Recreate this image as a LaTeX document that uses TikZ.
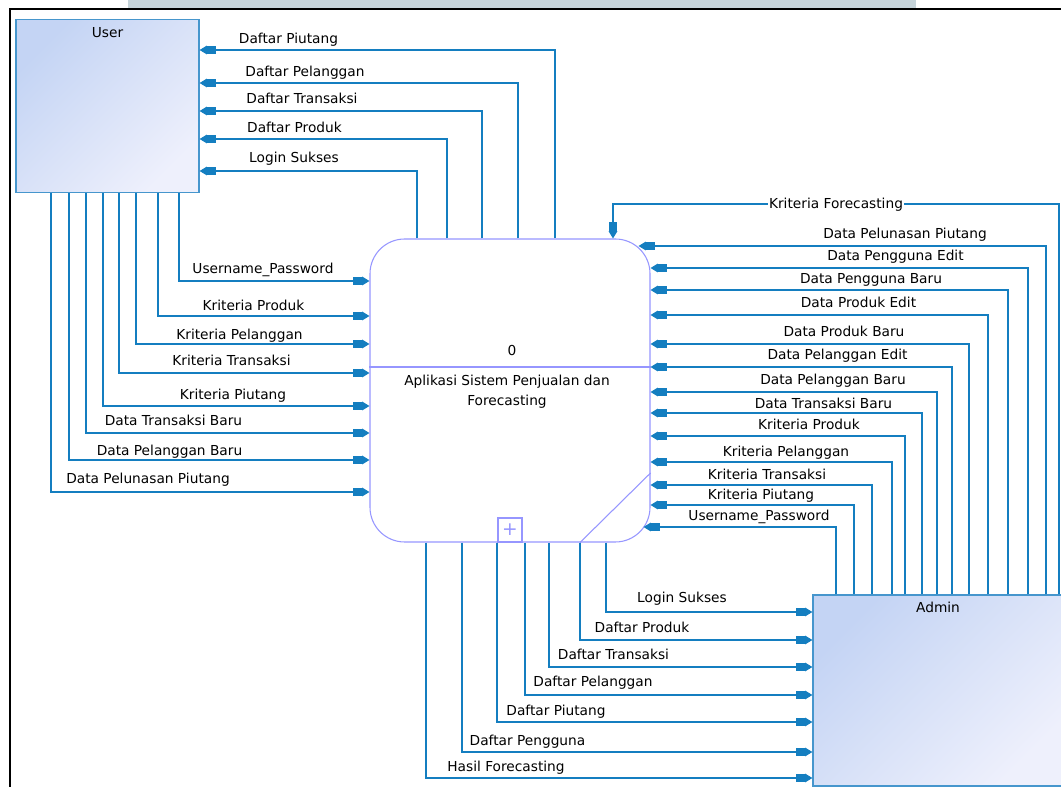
\documentclass[tikz,border=0pt]{standalone}
\usepackage{fontspec}
\setmainfont{DejaVu Sans}
\usetikzlibrary{arrows.meta,calc,positioning}
\definecolor{alirbiru}{RGB}{20,126,192}
\definecolor{entgaris}{RGB}{70,150,205}
\definecolor{entatas}{RGB}{196,212,244}
\definecolor{entbawah}{RGB}{238,240,252}
\definecolor{prosgaris}{RGB}{150,150,255}
\definecolor{pita}{RGB}{198,212,218}
\tikzset{
	entitas/.style={
		rectangle,
		draw=entgaris, line width=0.9pt,
		top color=entatas, bottom color=entbawah, shading angle=45,
		inner sep=0pt},
	proses/.style={
		rectangle, rounded corners=26pt,
		draw=prosgaris, line width=0.8pt, fill=white,
		minimum width=210pt, minimum height=227.25pt},
	garis/.style={draw=prosgaris, line width=0.8pt},
	alir/.style={draw=alirbiru, line width=0.8pt,
		-{Rectangle[length=6.5pt,width=6pt,sep=0pt]Triangle[length=5.5pt,width=6.5pt]}},
	teks/.style={font=\fontsize{10.3}{12}\selectfont, inner sep=1pt, anchor=base, yshift=-3.6pt},
}

\begin{document}
\begin{tikzpicture}
			[x=0.75pt, y=-0.75pt]
			\useasboundingbox (0,0) rectangle (1061,787);
			\clip (0,0) rectangle (1061,787);
			% bingkai
			\fill[pita] (128,0) rectangle (916,8);
			\draw[line width=1.5pt] (9.5,800) -- (9.5,9) -- (1075,9);
			% entitas dan proses
			\node[entitas, minimum width=137.25pt, minimum height=129.75pt] (user) at (107.5,106) {};
			\node[teks] (tuser) at (107.5,33) {User};
			\node[entitas, minimum width=187.5pt, minimum height=143.25pt] (admin) at (938,690.5) {};
			\node[teks] (tadmin) at (938,608) {Admin};
			\node[proses] (proses) at (510,390.5) {};
			\draw[garis] (proses.west |- 0,367) -- (proses.east |- 0,367);
			\draw[garis] (proses.south -| 580,0) -- (proses.east |- 0,473);
			\node[garis, anchor=south, minimum size=18pt, inner sep=0pt, text=prosgaris,
				font=\fontsize{14}{14}\selectfont] (sub) at (proses.south -| 510,0) {+};
			\node[teks] (pnomor) at (512,351) {0};
			\node[font=\fontsize{10.3}{15}\selectfont, align=center, inner sep=0pt, anchor=north]
				(pnama) at (507,374.5) {Aplikasi Sistem Penjualan dan\\Forecasting};
			% alir ke user
			\foreach \px/\py/\nama/\lx/\ly [count=\i] in {
				555/50/Daftar Piutang/288.5/39,
				518/83/Daftar Pelanggan/305/72,
				482/111/Daftar Transaksi/302/99,
				447/139/Daftar Produk/294.5/128,
				417/171/Login Sukses/294/158}{
				\draw[alir] (\px,0 |- proses.north) |- (user.east |- 0,\py);
				\node[teks] (lu\i) at (\lx,\ly) {\nama};
			}
			% alir dari user
			\foreach \px/\py/\nama/\lx/\ly [count=\i] in {
				179/281/Username\_Password/263/269,
				158/316/Kriteria Produk/253.5/306,
				136/344/Kriteria Pelanggan/239.5/335,
				119/373/Kriteria Transaksi/231.5/361,
				103/406/Kriteria Piutang/233/395,
				86/433/Data Transaksi Baru/173.5/421,
				69/460/Data Pelanggan Baru/169.5/451,
				51/492/Data Pelunasan Piutang/148/479}{
				\draw[alir] (user.south -| \px,0) |- (proses.west |- 0,\py);
				\node[teks] (du\i) at (\lx,\ly) {\nama};
			}
			% alir dari admin
			\foreach \px/\py/\nama/\lx/\ly/\gs [count=\i] in {
				1046/246/Data Pelunasan Piutang/905/234/-12,
				1028/268/Data Pengguna Edit/895.5/256/0,
				1008/290/Data Pengguna Baru/871/279/0,
				988/315/Data Produk Edit/858.5/303/0,
				969/344/Data Produk Baru/844/332/0,
				952/367/Data Pelanggan Edit/837.5/355/0,
				937/392/Data Pelanggan Baru/833/380/0,
				922/413/Data Transaksi Baru/823.5/404/0,
				905/436/Kriteria Produk/809/425/0,
				892/462/Kriteria Pelanggan/786/452/0,
				872/485/Kriteria Transaksi/767/475/0,
				854/505/Kriteria Piutang/761/495/0,
				836/527/Username\_Password/759/516/-7}{
				\draw[alir] (admin.north -| \px,0) |- ($(proses.east |- 0,\py)+(\gs,0)$);
				\node[teks] (da\i) at (\lx,\ly) {\nama};
			}
			\draw[alir] (admin.north -| 1059,0) -- (1059,204)
				-| node[teks, pos=0.25, fill=white] (lkf) {Kriteria Forecasting} (proses.north -| 613,0);
			% alir ke admin
			\foreach \px/\py/\nama/\lx/\ly [count=\i] in {
				606/612/Login Sukses/682/598,
				580/640/Daftar Produk/642/628,
				549/667/Daftar Transaksi/613.5/655,
				525/695/Daftar Pelanggan/593/682,
				497/722/Daftar Piutang/556/711,
				462/752/Daftar Pengguna/527.5/741,
				426/778/Hasil Forecasting/506/767}{
				\draw[alir] (proses.south -| \px,0) |- (admin.west |- 0,\py);
				\node[teks] (ka\i) at (\lx,\ly) {\nama};
			}
\end{tikzpicture}
\end{document}
